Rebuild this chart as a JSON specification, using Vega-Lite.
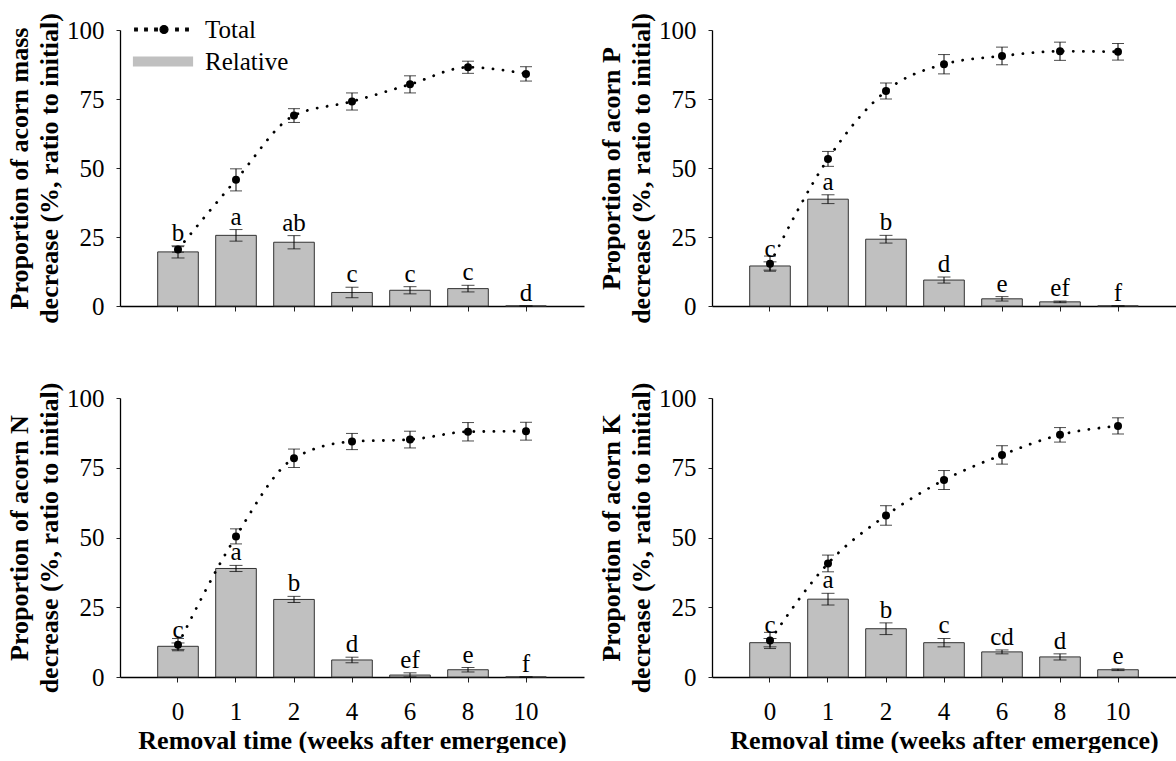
{
  "$schema": "https://vega.github.io/schema/vega-lite/v6.json",
  "background": "white",
  "padding": {"left": 6, "top": 12, "right": 0, "bottom": 0},
  "bounds": "flush",
  "columns": 2,
  "spacing": {"row": 92, "column": 128},
  "config": {
    "font": "Liberation Serif",
    "view": {"stroke": null},
    "axis": {"domainColor": "black", "domainWidth": 1.3, "tickColor": "#222", "tickWidth": 1, "labelFont": "Liberation Serif", "labelFontSize": 25, "labelColor": "black", "titleFont": "Liberation Serif", "titleFontSize": 26, "titleFontWeight": "bold", "titleColor": "black", "grid": false},
    "axisY": {"tickSize": 4, "labelPadding": 12, "titlePadding": 4, "titleLineHeight": 30},
    "axisX": {"tickSize": 5, "labelPadding": 17, "titlePadding": 3, "labelAngle": 0},
    "text": {"font": "Liberation Serif"}
  },
  "datasets": {
    "d": [
      {"el": "mass", "week": "0", "rel": 19.6, "rel_lo": 17.4, "rel_hi": 21.8, "tot": 20.5, "tot_lo": 19.5, "tot_hi": 21.5, "let": "b"},
      {"el": "mass", "week": "1", "rel": 25.6, "rel_lo": 23.5, "rel_hi": 27.7, "tot": 45.7, "tot_lo": 41.7, "tot_hi": 49.7, "let": "a"},
      {"el": "mass", "week": "2", "rel": 23.1, "rel_lo": 20.7, "rel_hi": 25.5, "tot": 69.0, "tot_lo": 66.5, "tot_hi": 71.5, "let": "ab"},
      {"el": "mass", "week": "4", "rel": 4.9, "rel_lo": 3.0, "rel_hi": 6.8, "tot": 74.1, "tot_lo": 71.0, "tot_hi": 77.2, "let": "c"},
      {"el": "mass", "week": "6", "rel": 5.7, "rel_lo": 4.4, "rel_hi": 7.0, "tot": 80.3, "tot_lo": 77.2, "tot_hi": 83.4, "let": "c"},
      {"el": "mass", "week": "8", "rel": 6.3, "rel_lo": 5.1, "rel_hi": 7.5, "tot": 86.5, "tot_lo": 84.3, "tot_hi": 88.7, "let": "c"},
      {"el": "mass", "week": "10", "rel": 0, "rel_lo": 0, "rel_hi": 0, "tot": 84.1, "tot_lo": 81.5, "tot_hi": 86.7, "let": "d"},
      {"el": "P", "week": "0", "rel": 14.5, "rel_lo": 13.0, "rel_hi": 16.0, "tot": 15.3, "tot_lo": 12.6, "tot_hi": 18.1, "let": "c"},
      {"el": "P", "week": "1", "rel": 38.7, "rel_lo": 37.1, "rel_hi": 40.3, "tot": 53.3, "tot_lo": 50.6, "tot_hi": 56.0, "let": "a"},
      {"el": "P", "week": "2", "rel": 24.2, "rel_lo": 22.8, "rel_hi": 25.6, "tot": 77.9, "tot_lo": 75.0, "tot_hi": 80.8, "let": "b"},
      {"el": "P", "week": "4", "rel": 9.4, "rel_lo": 8.3, "rel_hi": 10.5, "tot": 87.6, "tot_lo": 84.1, "tot_hi": 91.1, "let": "d"},
      {"el": "P", "week": "6", "rel": 2.6, "rel_lo": 1.8, "rel_hi": 3.4, "tot": 90.6, "tot_lo": 87.4, "tot_hi": 93.8, "let": "e"},
      {"el": "P", "week": "8", "rel": 1.5, "rel_lo": 1.2, "rel_hi": 1.8, "tot": 92.3, "tot_lo": 89.0, "tot_hi": 95.6, "let": "ef"},
      {"el": "P", "week": "10", "rel": 0, "rel_lo": 0, "rel_hi": 0, "tot": 92.1, "tot_lo": 89.1, "tot_hi": 95.1, "let": "f"},
      {"el": "N", "week": "0", "rel": 11.0, "rel_lo": 9.8, "rel_hi": 12.2, "tot": 11.6, "tot_lo": 9.4, "tot_hi": 13.8, "let": "c"},
      {"el": "N", "week": "1", "rel": 38.9, "rel_lo": 37.8, "rel_hi": 40.0, "tot": 50.4, "tot_lo": 47.7, "tot_hi": 53.1, "let": "a"},
      {"el": "N", "week": "2", "rel": 27.8, "rel_lo": 26.7, "rel_hi": 28.9, "tot": 78.4, "tot_lo": 75.1, "tot_hi": 81.7, "let": "b"},
      {"el": "N", "week": "4", "rel": 6.1, "rel_lo": 5.1, "rel_hi": 7.1, "tot": 84.4, "tot_lo": 81.5, "tot_hi": 87.3, "let": "d"},
      {"el": "N", "week": "6", "rel": 0.7, "rel_lo": 0.0, "rel_hi": 1.5, "tot": 85.1, "tot_lo": 82.1, "tot_hi": 88.1, "let": "ef"},
      {"el": "N", "week": "8", "rel": 2.6, "rel_lo": 1.8, "rel_hi": 3.4, "tot": 87.9, "tot_lo": 84.6, "tot_hi": 91.2, "let": "e"},
      {"el": "N", "week": "10", "rel": 0, "rel_lo": 0, "rel_hi": 0, "tot": 88.1, "tot_lo": 84.9, "tot_hi": 91.3, "let": "f"},
      {"el": "K", "week": "0", "rel": 12.3, "rel_lo": 10.8, "rel_hi": 13.8, "tot": 13.1, "tot_lo": 10.2, "tot_hi": 16.0, "let": "c"},
      {"el": "K", "week": "1", "rel": 27.9, "rel_lo": 25.8, "rel_hi": 30.0, "tot": 40.7, "tot_lo": 37.7, "tot_hi": 43.7, "let": "a"},
      {"el": "K", "week": "2", "rel": 17.3, "rel_lo": 15.2, "rel_hi": 19.4, "tot": 57.9, "tot_lo": 54.4, "tot_hi": 61.4, "let": "b"},
      {"el": "K", "week": "4", "rel": 12.3, "rel_lo": 10.8, "rel_hi": 13.8, "tot": 70.6, "tot_lo": 67.2, "tot_hi": 74.0, "let": "c"},
      {"el": "K", "week": "6", "rel": 9.0, "rel_lo": 8.3, "rel_hi": 9.7, "tot": 79.6, "tot_lo": 76.3, "tot_hi": 82.9, "let": "cd"},
      {"el": "K", "week": "8", "rel": 7.2, "rel_lo": 6.1, "rel_hi": 8.3, "tot": 86.8, "tot_lo": 84.2, "tot_hi": 89.4, "let": "d"},
      {"el": "K", "week": "10", "rel": 2.6, "rel_lo": 2.3, "rel_hi": 2.9, "tot": 90.0, "tot_lo": 87.1, "tot_hi": 92.9, "let": "e"}
    ]
  },
  "concat": [
    {
      "width": 464, "height": 276,
      "data": {"name": "d"},
      "transform": [{"filter": "datum.el === 'mass'"}],
      "encoding": {"x": {"field": "week", "type": "nominal", "sort": null, "scale": {"paddingInner": 0.3, "paddingOuter": 0.65}, "axis": {"labels": false, "title": null}}},
      "layer": [
        {"mark": {"type": "bar", "stroke": "#333333", "strokeWidth": 1},
         "encoding": {"y": {"field": "rel", "type": "quantitative", "title": ["Proportion of acorn mass", "decrease (%, ratio to initial)"], "scale": {"domain": [0, 100]}, "axis": {"values": [0, 25, 50, 75, 100]}},
           "color": {"datum": "Relative", "scale": {"domain": ["Total", "Relative"], "range": ["#000000", "#c0c0c0"]},
             "legend": {"orient": "none", "legendX": 30.5, "legendY": -13, "title": null, "padding": 0, "symbolSize": 400, "symbolStrokeColor": "#333333", "symbolStrokeWidth": 1.2, "labelFont": "Liberation Serif", "labelFontSize": 25, "labelColor": "black", "labelOffset": 29.5, "rowPadding": 6,
               "encoding": {"symbols": {
                 "shape": {"value": {"expr": "datum.value === 'Total' ? 'M-2.83,-0.13h0.26v0.26h-0.26Z M-1.83,-0.13h0.26v0.26h-0.26Z M-0.83,-0.13h0.26v0.26h-0.26Z M1.27,-0.13h0.26v0.26h-0.26Z M2.27,-0.13h0.26v0.26h-0.26Z M0.5,0A0.4,0.4 0 1,1 -0.3,0A0.4,0.4 0 1,1 0.5,0Z' : 'M-2.95,-0.45H2.95V0.45H-2.95Z'"}},
                 "fill": {"value": {"expr": "datum.value === 'Total' ? '#000000' : '#c0c0c0'"}},
                 "stroke": {"value": {"expr": "datum.value === 'Total' ? '#000000' : '#333333'"}},
                 "strokeOpacity": {"value": 1},
                 "strokeDash": {"value": []},
                 "opacity": {"value": 1},
                 "fillOpacity": {"value": 1}
               }}}}}},
        {"mark": {"type": "errorbar", "ticks": {"size": 13, "thickness": 1, "color": "black"}, "rule": {"strokeWidth": 1, "color": "black"}},
         "encoding": {"y": {"field": "rel_lo", "type": "quantitative", "title": ["Proportion of acorn mass", "decrease (%, ratio to initial)"]}, "y2": {"field": "rel_hi"}}},
        {"mark": {"type": "line", "interpolate": "monotone", "strokeDash": [0.1, 10], "strokeCap": "round", "strokeWidth": 2.8},
         "encoding": {"y": {"field": "tot", "type": "quantitative", "title": ["Proportion of acorn mass", "decrease (%, ratio to initial)"]}, "color": {"datum": "Total"}}},
        {"mark": {"type": "errorbar", "ticks": {"size": 12, "thickness": 1, "color": "black"}, "rule": {"strokeWidth": 1, "color": "black"}},
         "encoding": {"y": {"field": "tot_lo", "type": "quantitative", "title": ["Proportion of acorn mass", "decrease (%, ratio to initial)"]}, "y2": {"field": "tot_hi"}}},
        {"mark": {"type": "point", "filled": true, "size": 64, "opacity": 1},
         "encoding": {"y": {"field": "tot", "type": "quantitative", "title": ["Proportion of acorn mass", "decrease (%, ratio to initial)"]}, "color": {"datum": "Total"}}},
        {"mark": {"type": "text", "baseline": "alphabetic", "dy": -5, "fontSize": 25, "color": "black"},
         "encoding": {"y": {"field": "rel_hi", "type": "quantitative", "title": ["Proportion of acorn mass", "decrease (%, ratio to initial)"]}, "text": {"field": "let"}}}
      ]
    },
    {
      "width": 464, "height": 276,
      "data": {"name": "d"},
      "transform": [{"filter": "datum.el === 'P'"}],
      "encoding": {"x": {"field": "week", "type": "nominal", "sort": null, "scale": {"paddingInner": 0.3, "paddingOuter": 0.65}, "axis": {"labels": false, "title": null}}},
      "layer": [
        {"mark": {"type": "bar", "fill": "#c0c0c0", "stroke": "#333333", "strokeWidth": 1},
         "encoding": {"y": {"field": "rel", "type": "quantitative", "title": ["Proportion of acorn P", "decrease (%, ratio to initial)"], "scale": {"domain": [0, 100]}, "axis": {"values": [0, 25, 50, 75, 100]}}}},
        {"mark": {"type": "errorbar", "ticks": {"size": 13, "thickness": 1, "color": "black"}, "rule": {"strokeWidth": 1, "color": "black"}},
         "encoding": {"y": {"field": "rel_lo", "type": "quantitative", "title": ["Proportion of acorn P", "decrease (%, ratio to initial)"]}, "y2": {"field": "rel_hi"}}},
        {"mark": {"type": "line", "color": "black", "interpolate": "monotone", "strokeDash": [0.1, 10], "strokeCap": "round", "strokeWidth": 2.8},
         "encoding": {"y": {"field": "tot", "type": "quantitative", "title": ["Proportion of acorn P", "decrease (%, ratio to initial)"]}}},
        {"mark": {"type": "errorbar", "ticks": {"size": 12, "thickness": 1, "color": "black"}, "rule": {"strokeWidth": 1, "color": "black"}},
         "encoding": {"y": {"field": "tot_lo", "type": "quantitative", "title": ["Proportion of acorn P", "decrease (%, ratio to initial)"]}, "y2": {"field": "tot_hi"}}},
        {"mark": {"type": "point", "filled": true, "size": 64, "opacity": 1, "color": "black"},
         "encoding": {"y": {"field": "tot", "type": "quantitative", "title": ["Proportion of acorn P", "decrease (%, ratio to initial)"]}}},
        {"mark": {"type": "text", "baseline": "alphabetic", "dy": -5, "fontSize": 25, "color": "black"},
         "encoding": {"y": {"field": "rel_hi", "type": "quantitative", "title": ["Proportion of acorn P", "decrease (%, ratio to initial)"]}, "text": {"field": "let"}}}
      ]
    },
    {
      "width": 464, "height": 279,
      "data": {"name": "d"},
      "transform": [{"filter": "datum.el === 'N'"}],
      "encoding": {"x": {"field": "week", "type": "nominal", "sort": null, "scale": {"paddingInner": 0.3, "paddingOuter": 0.65}, "axis": {"title": "Removal time (weeks after emergence)"}}},
      "layer": [
        {"mark": {"type": "bar", "fill": "#c0c0c0", "stroke": "#333333", "strokeWidth": 1},
         "encoding": {"y": {"field": "rel", "type": "quantitative", "title": ["Proportion of acorn N", "decrease (%, ratio to initial)"], "scale": {"domain": [0, 100]}, "axis": {"values": [0, 25, 50, 75, 100]}}}},
        {"mark": {"type": "errorbar", "ticks": {"size": 13, "thickness": 1, "color": "black"}, "rule": {"strokeWidth": 1, "color": "black"}},
         "encoding": {"y": {"field": "rel_lo", "type": "quantitative", "title": ["Proportion of acorn N", "decrease (%, ratio to initial)"]}, "y2": {"field": "rel_hi"}}},
        {"mark": {"type": "line", "color": "black", "interpolate": "monotone", "strokeDash": [0.1, 10], "strokeCap": "round", "strokeWidth": 2.8},
         "encoding": {"y": {"field": "tot", "type": "quantitative", "title": ["Proportion of acorn N", "decrease (%, ratio to initial)"]}}},
        {"mark": {"type": "errorbar", "ticks": {"size": 12, "thickness": 1, "color": "black"}, "rule": {"strokeWidth": 1, "color": "black"}},
         "encoding": {"y": {"field": "tot_lo", "type": "quantitative", "title": ["Proportion of acorn N", "decrease (%, ratio to initial)"]}, "y2": {"field": "tot_hi"}}},
        {"mark": {"type": "point", "filled": true, "size": 64, "opacity": 1, "color": "black"},
         "encoding": {"y": {"field": "tot", "type": "quantitative", "title": ["Proportion of acorn N", "decrease (%, ratio to initial)"]}}},
        {"mark": {"type": "text", "baseline": "alphabetic", "dy": -5, "fontSize": 25, "color": "black"},
         "encoding": {"y": {"field": "rel_hi", "type": "quantitative", "title": ["Proportion of acorn N", "decrease (%, ratio to initial)"]}, "text": {"field": "let"}}}
      ]
    },
    {
      "width": 464, "height": 279,
      "data": {"name": "d"},
      "transform": [{"filter": "datum.el === 'K'"}],
      "encoding": {"x": {"field": "week", "type": "nominal", "sort": null, "scale": {"paddingInner": 0.3, "paddingOuter": 0.65}, "axis": {"title": "Removal time (weeks after emergence)"}}},
      "layer": [
        {"mark": {"type": "bar", "fill": "#c0c0c0", "stroke": "#333333", "strokeWidth": 1},
         "encoding": {"y": {"field": "rel", "type": "quantitative", "title": ["Proportion of acorn K", "decrease (%, ratio to initial)"], "scale": {"domain": [0, 100]}, "axis": {"values": [0, 25, 50, 75, 100]}}}},
        {"mark": {"type": "errorbar", "ticks": {"size": 13, "thickness": 1, "color": "black"}, "rule": {"strokeWidth": 1, "color": "black"}},
         "encoding": {"y": {"field": "rel_lo", "type": "quantitative", "title": ["Proportion of acorn K", "decrease (%, ratio to initial)"]}, "y2": {"field": "rel_hi"}}},
        {"mark": {"type": "line", "color": "black", "interpolate": "monotone", "strokeDash": [0.1, 10], "strokeCap": "round", "strokeWidth": 2.8},
         "encoding": {"y": {"field": "tot", "type": "quantitative", "title": ["Proportion of acorn K", "decrease (%, ratio to initial)"]}}},
        {"mark": {"type": "errorbar", "ticks": {"size": 12, "thickness": 1, "color": "black"}, "rule": {"strokeWidth": 1, "color": "black"}},
         "encoding": {"y": {"field": "tot_lo", "type": "quantitative", "title": ["Proportion of acorn K", "decrease (%, ratio to initial)"]}, "y2": {"field": "tot_hi"}}},
        {"mark": {"type": "point", "filled": true, "size": 64, "opacity": 1, "color": "black"},
         "encoding": {"y": {"field": "tot", "type": "quantitative", "title": ["Proportion of acorn K", "decrease (%, ratio to initial)"]}}},
        {"mark": {"type": "text", "baseline": "alphabetic", "dy": -5, "fontSize": 25, "color": "black"},
         "encoding": {"y": {"field": "rel_hi", "type": "quantitative", "title": ["Proportion of acorn K", "decrease (%, ratio to initial)"]}, "text": {"field": "let"}}}
      ]
    }
  ]
}
